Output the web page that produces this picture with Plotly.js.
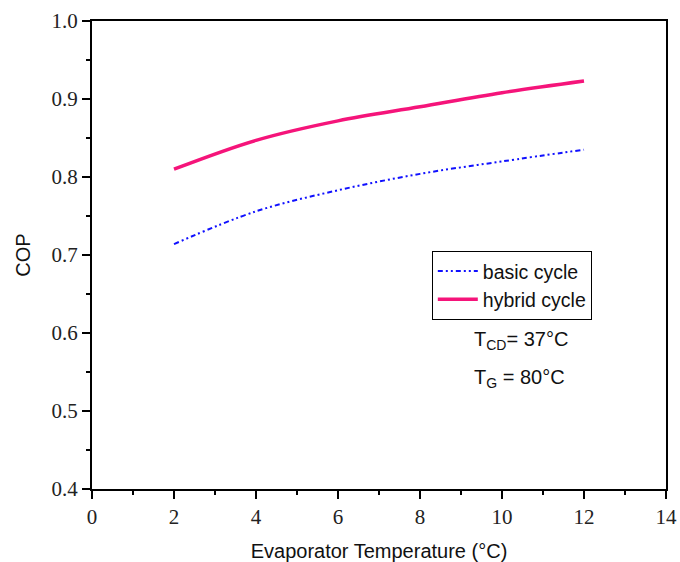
<!DOCTYPE html>
<html>
<head>
<meta charset="utf-8">
<script src="https://cdn.plot.ly/plotly-3.0.1.min.js"></script>
<style>html,body{margin:0;padding:0;background:#fff;}#chart{width:680px;height:562px;}</style>
</head>
<body>
<div id="chart"></div>
<script>
var evapTemp = [2, 4, 6, 8, 10, 12];
var basicCOP = [0.714, 0.756, 0.783, 0.804, 0.820, 0.835];
var hybridCOP = [0.810, 0.847, 0.872, 0.890, 0.908, 0.923];
var seriesNames = ["basic cycle", "hybrid cycle"];

var traces = [
  {x: evapTemp, y: basicCOP, name: seriesNames[0], mode: "lines",
   line: {color: "#1010ff", width: 2, dash: "5px,3px,2px,3px,2px,3px", shape: "spline"}},
  {x: evapTemp, y: hybridCOP, name: seriesNames[1], mode: "lines",
   line: {color: "#f5147a", width: 3.5, shape: "spline"}}
];

var sans = "Liberation Sans, Arial, sans-serif";
var tickFont = {family: "Liberation Serif, Times New Roman, serif", size: 21, color: "#222"};
var layout = {
  width: 680, height: 562,
  margin: {l: 92, r: 14, t: 21, b: 73},
  paper_bgcolor: "#fff", plot_bgcolor: "#fff",
  showlegend: true,
  legend: {x: 0.592, y: 0.509, xanchor: "left", yanchor: "top",
    bordercolor: "#000", borderwidth: 1, bgcolor: "rgba(255,255,255,0)",
    font: {family: sans, size: 19.5, color: "#111"},
    tracegroupgap: 0, itemwidth: 40},
  xaxis: {range: [0, 14], dtick: 2, tick0: 0, showgrid: false, zeroline: false,
    showline: true, mirror: true, linecolor: "#000", linewidth: 2,
    ticks: "outside", ticklen: 8, tickwidth: 2, tickcolor: "#000",
    minor: {dtick: 1, ticks: "outside", ticklen: 4, tickwidth: 2, tickcolor: "#000", showgrid: false},
    tickfont: tickFont,
    title: {text: "Evaporator Temperature (°C)", standoff: 18,
      font: {family: sans, size: 20, color: "#111"}}},
  yaxis: {range: [0.4, 1.0], dtick: 0.1, tick0: 0.4, tickformat: ".1f", showgrid: false, zeroline: false,
    showline: true, mirror: true, linecolor: "#000", linewidth: 2,
    ticks: "outside", ticklen: 8, tickwidth: 2, tickcolor: "#000",
    minor: {dtick: 0.05, ticks: "outside", ticklen: 4, tickwidth: 2, tickcolor: "#000", showgrid: false},
    tickfont: tickFont,
    title: {text: "COP", standoff: 16,
      font: {family: sans, size: 20, color: "#111"}}},
  annotations: [
    {xref: "paper", yref: "paper", x: (472-92)/574, y: (489-340)/468, xanchor: "left", yanchor: "middle", showarrow: false,
     text: "T<sub style='font-size:17px'>CD</sub>= 37°C", font: {family: sans, size: 20, color: "#111"}},
    {xref: "paper", yref: "paper", x: (472-92)/574, y: (489-378)/468, xanchor: "left", yanchor: "middle", showarrow: false,
     text: "T<sub style='font-size:17px'>G</sub> = 80°C", font: {family: sans, size: 20, color: "#111"}}
  ]
};
Plotly.newPlot("chart", traces, layout, {displayModeBar: false, staticPlot: true});
</script>
</body>
</html>
